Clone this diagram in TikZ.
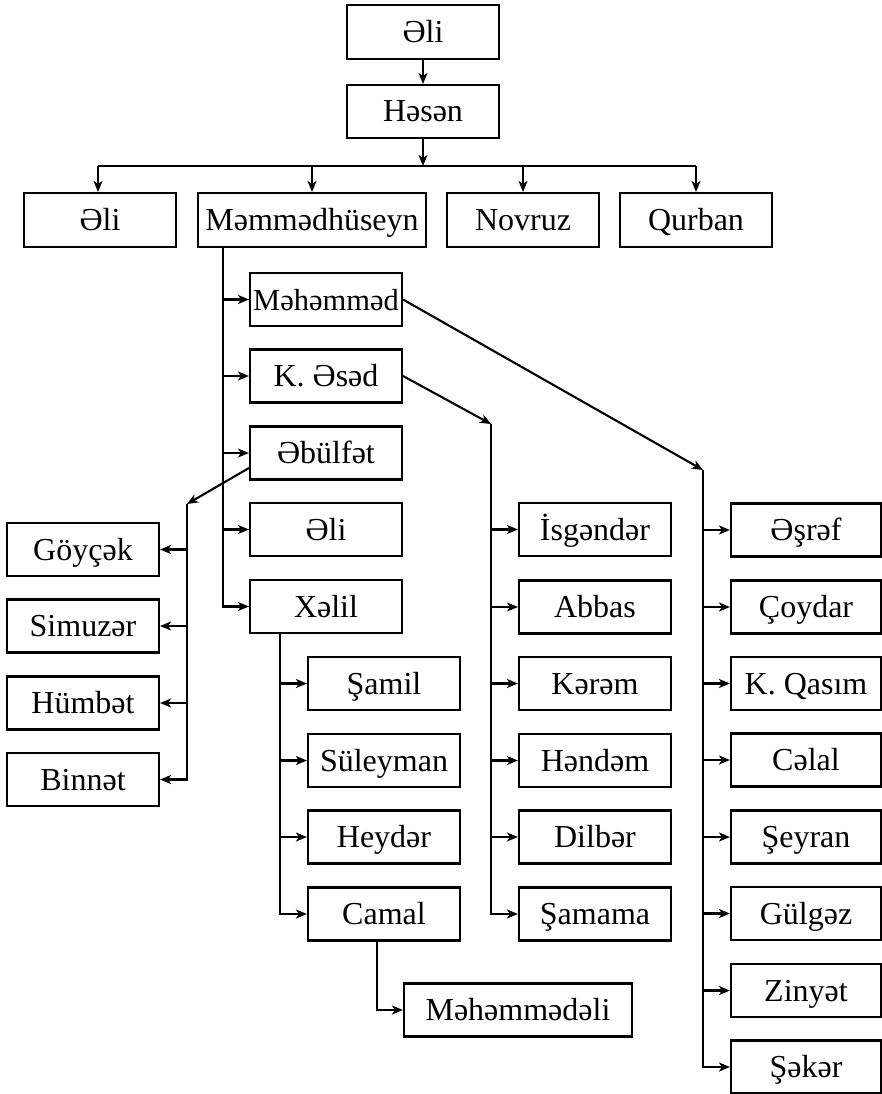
\documentclass[tikz,border=0pt]{standalone}
\usepackage{fontspec}
\setmainfont{Liberation Serif}
\usetikzlibrary{arrows.meta,calc}
\tikzset{
  box/.style={draw, line width=2.1pt, minimum width=152pt, minimum height=53pt, inner sep=0pt, text height=21pt, text depth=0pt, font=\fontsize{32}{36}\selectfont},
  wbox/.style={box, minimum width=228pt},
  line/.style={line width=2.1pt},
  arr/.style={line width=2.1pt, -{Stealth[length=11pt,width=9pt,inset=3pt]}},
}
\begin{document}
\begin{tikzpicture}[x=1pt,y=-1pt]
\useasboundingbox (0,0) rectangle (882,1094);
% top
\node[box, minimum height=54pt] (eliA) at (423,32) {Əli};
\node[box] (hesen) at (423,111.5) {Həsən};
\node[box, minimum height=54pt] (eliB) at (100,220) {Əli};
\node[wbox, minimum height=54pt] (mhus) at (312,220) {Məmmədhüseyn};
\node[box, minimum height=54pt] (novruz) at (523,220) {Novruz};
\node[box, minimum height=54pt] (qurban) at (696,220) {Qurban};
\draw[arr] (eliA) -- (hesen);
\coordinate (bus) at (423,166);
\coordinate (busL) at (98,166);
\coordinate (busR) at (696,166);
\draw[line] (busL) -- (busR);
\draw[arr] (hesen) -- (bus);
\draw[arr] (busL) -- (busL |- eliB.north);
\draw[arr] (mhus.north |- bus) -- (mhus.north);
\draw[arr] (novruz.north |- bus) -- (novruz.north);
\draw[arr] (busR) -- (qurban.north);
% Memmedhuseyn children
\node[box, font=\fontsize{30.5}{36}\selectfont] (mehemmed) at (326,299.5) {Məhəmməd};
\node[box] (kesed) at (326,376) {K. Əsəd};
\node[box] (ebulfet) at (326,453) {Əbülfət};
\node[box] (eliC) at (326,529.5) {Əli};
\node[box] (xelil) at (326,606.5) {Xəlil};
\coordinate (mv) at (223,247);
\draw[arr] (mv) |- (xelil.west);
\draw[arr] (mv |- mehemmed) -- (mehemmed.west);
\draw[arr] (mv |- kesed) -- (kesed.west);
\draw[arr] (mv |- ebulfet) -- (ebulfet.west);
\draw[arr] (mv |- eliC) -- (eliC.west);
% Ebulfet children
\node[box] (goycek) at (83,549.5) {Göyçək};
\node[box] (simuzer) at (83,626) {Simuzər};
\node[box] (humbet) at (83,703) {Hümbət};
\node[box] (binnet) at (83,779.5) {Binnət};
\coordinate (lv) at (187,504);
\draw[arr] ($(ebulfet.west)+(0,15)$) -- (lv);
\draw[arr] (lv) |- (binnet.east);
\draw[arr] (lv |- goycek) -- (goycek.east);
\draw[arr] (lv |- simuzer) -- (simuzer.east);
\draw[arr] (lv |- humbet) -- (humbet.east);
% K. Esed children
\node[box] (isgender) at (595,529.5) {İsgəndər};
\node[box] (abbas) at (595,607) {Abbas};
\node[box] (kerem) at (595,683.5) {Kərəm};
\node[box] (hendem) at (595,760.5) {Həndəm};
\node[box] (dilber) at (595,837) {Dilbər};
\node[box] (samama) at (595,914) {Şamama};
\coordinate (kv) at (491,424);
\draw[arr] (kesed.east) -- (kv);
\draw[arr] (kv) |- (samama.west);
\draw[arr] (kv |- isgender) -- (isgender.west);
\draw[arr] (kv |- abbas) -- (abbas.west);
\draw[arr] (kv |- kerem) -- (kerem.west);
\draw[arr] (kv |- hendem) -- (hendem.west);
\draw[arr] (kv |- dilber) -- (dilber.west);
% Mehemmed children
\node[box, minimum width=150pt] (esref) at (806,530) {Əşrəf};
\node[box, minimum width=150pt] (coydar) at (806,607) {Çoydar};
\node[box, minimum width=150pt] (kqasim) at (806,683.5) {K. Qasım};
\node[box, minimum width=150pt] (celal) at (806,760) {Cəlal};
\node[box, minimum width=150pt] (seyran) at (806,837) {Şeyran};
\node[box, minimum width=150pt] (gulgez) at (806,913.5) {Gülgəz};
\node[box, minimum width=150pt] (zinyet) at (806,990.5) {Zinyət};
\node[box, minimum width=150pt] (seker) at (806,1067) {Şəkər};
\coordinate (rv) at (703,470);
\draw[arr] (mehemmed.east) -- (rv);
\draw[arr] (rv) |- (seker.west);
\draw[arr] (rv |- esref) -- (esref.west);
\draw[arr] (rv |- coydar) -- (coydar.west);
\draw[arr] (rv |- kqasim) -- (kqasim.west);
\draw[arr] (rv |- celal) -- (celal.west);
\draw[arr] (rv |- seyran) -- (seyran.west);
\draw[arr] (rv |- gulgez) -- (gulgez.west);
\draw[arr] (rv |- zinyet) -- (zinyet.west);
% Xelil children
\node[box] (samil) at (384,683.5) {Şamil};
\node[box] (suleyman) at (384,760.5) {Süleyman};
\node[box] (heyder) at (384,837) {Heydər};
\node[box] (camal) at (384,914) {Camal};
\coordinate (xv) at (280,633);
\draw[arr] (xv) |- (camal.west);
\draw[arr] (xv |- samil) -- (samil.west);
\draw[arr] (xv |- suleyman) -- (suleyman.west);
\draw[arr] (xv |- heyder) -- (heyder.west);
% Camal child
\node[wbox] (mehemmedeli) at (518,1010) {Məhəmmədəli};
\coordinate (cv) at (377,941);
\draw[arr] (cv) |- (mehemmedeli.west);
\end{tikzpicture}
\end{document}
